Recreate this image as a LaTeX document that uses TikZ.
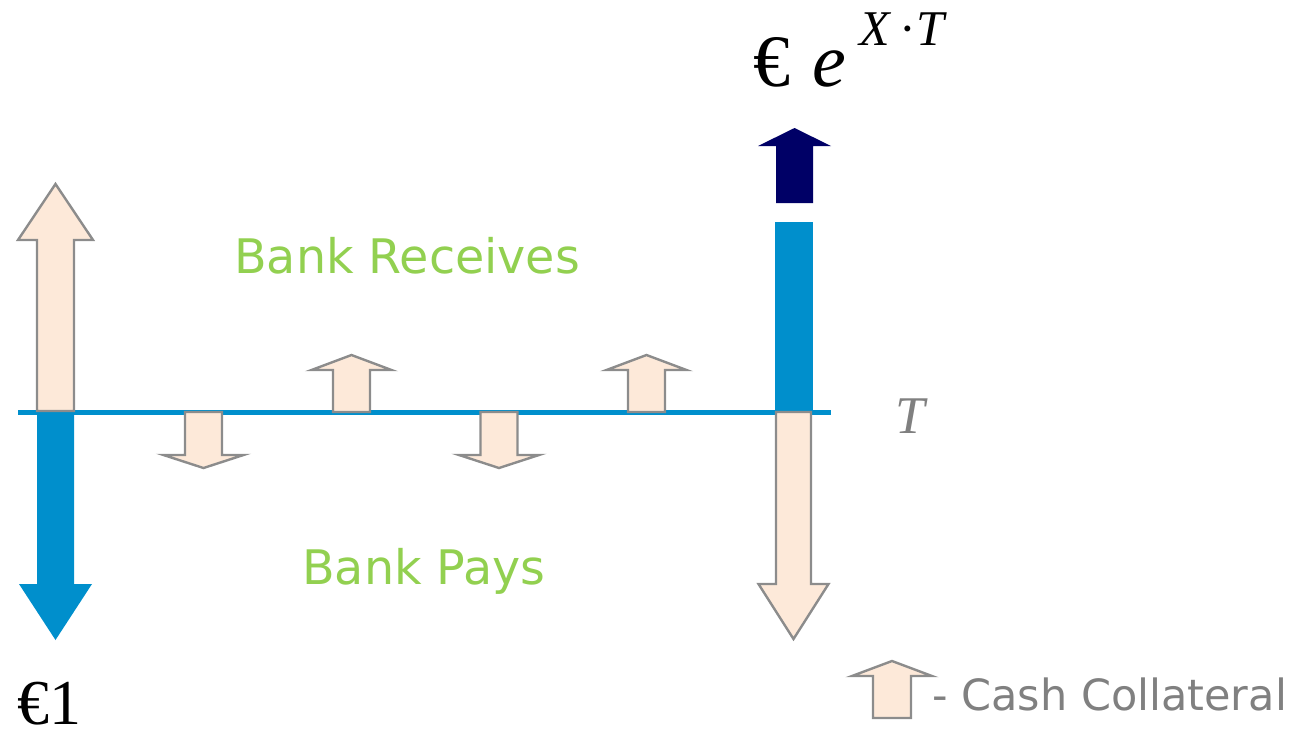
\documentclass[tikz,border=0pt]{standalone}
\usepackage{fontspec}
\setmainfont{DejaVu Sans}
\newfontfamily\tnr{Liberation Serif}
\definecolor{lineblue}{HTML}{008FCC}
\definecolor{navy}{HTML}{000066}
\definecolor{peach}{HTML}{FDE9D9}
\definecolor{edgegray}{HTML}{8C8C8C}
\definecolor{bankgreen}{HTML}{92D050}
\definecolor{txtgray}{HTML}{808080}
\newcommand\barrow[6]{(#1-#2,#4) -- (#1-#2,#5) -- (#1-#3,#5) -- (#1,#6) -- (#1+#3,#5) -- (#1+#2,#5) -- (#1+#2,#4) -- cycle}
\tikzset{
  collat/.style={fill=peach,draw=edgegray,line width=2.4pt,line join=miter},
  bluearr/.style={fill=lineblue},
  navyarr/.style={fill=navy},
  lbl/.style={inner sep=0pt,anchor=base west},
  greentxt/.style={lbl,text=bankgreen,font=\fontsize{47.6}{47.6}\selectfont},
}
\begin{document}
\begin{tikzpicture}[x=1pt,y=-1pt]
\useasboundingbox (0,0) rectangle (1292,731);
% timeline
\coordinate (tl) at (18,412);
\coordinate (tr) at (831,412);
\draw[lineblue,line width=5pt] (tl) -- (tr);
% left big arrows
\fill[bluearr] \barrow{55.5}{18.5}{36.5}{411}{584}{640};
\draw[collat] \barrow{55.5}{18.5}{37.5}{411}{240}{184};
% right side
\fill[lineblue] (775,222) rectangle (813,414);
\fill[navyarr] \barrow{794.5}{18.5}{36.5}{203}{146}{128};
\draw[collat] \barrow{793.5}{17.5}{35}{412}{584}{639};
% small collateral arrows
\draw[collat] \barrow{203.5}{18.5}{40}{412}{455}{468};
\draw[collat] \barrow{351.5}{18.5}{40}{412}{370}{355};
\draw[collat] \barrow{499}{18.5}{40}{412}{455}{468};
\draw[collat] \barrow{646.5}{18.5}{40}{412}{370}{355};
% legend arrow
\draw[collat] \barrow{892}{19}{40}{718}{676}{661};
% texts
\node[greentxt] (recv) at (234,273) {Bank Receives};
\node[greentxt] (pays) at (302,584) {Bank Pays};
\node[lbl,text=txtgray,font=\fontsize{43}{43}\selectfont] (legend) at (932,710) {- Cash Collateral};
\node[lbl,text=txtgray,font=\tnr\itshape\fontsize{53}{53}\selectfont] (T) at (895,433) {T};
\node[lbl,font=\tnr\fontsize{64}{64}\selectfont] (one) at (17,724) {€1};
\node[lbl,font=\tnr\fontsize{74}{74}\selectfont] (euro) at (753,86) {€};
\node[lbl,font=\tnr\itshape\fontsize{76}{76}\selectfont] (e) at (812,86) {e};
\node[lbl,font=\tnr\fontsize{50}{50}\selectfont] (sup) at (859,45) {\textit{X}\,·\textit{T}};
\end{tikzpicture}
\end{document}
